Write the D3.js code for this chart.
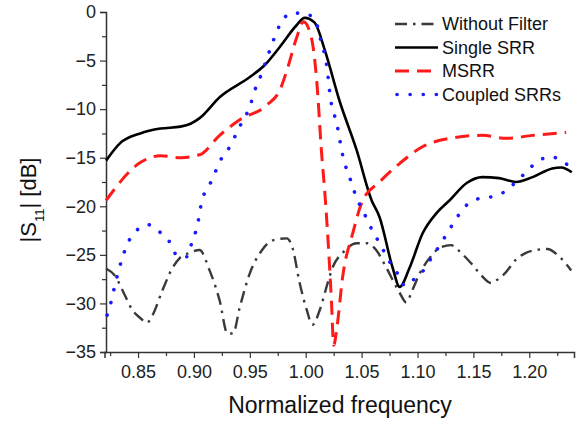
<!DOCTYPE html>
<html>
<head>
<meta charset="utf-8">
<script src="https://cdn.jsdelivr.net/npm/d3@7"></script>
<style>
  body { margin: 0; background: #fff; }
  svg { display: block; font-family: "Liberation Sans", Arial, sans-serif; }
</style>
</head>
<body>
<div id="chart"></div>
<script>
/* ---------- data ---------- */

var seriesNames = ["Without Filter", "Single SRR", "MSRR", "Coupled SRRs"];

var withoutFilter = [
  [0.8214, -26.4], [0.829, -27.1], [0.838, -29.1], [0.845, -30.7], [0.852, -31.5],
  [0.858, -32.0], [0.863, -31.2], [0.872, -28.6], [0.881, -26.3], [0.8875, -25.3],
  [0.896, -24.8], [0.905, -24.5], [0.914, -26.6], [0.923, -29.7], [0.930, -33.1],
  [0.935, -33.1], [0.941, -30.4], [0.950, -26.9], [0.961, -24.5], [0.9705, -23.5],
  [0.983, -23.3], [0.988, -24.2], [0.9946, -27.9], [1.001, -30.7], [1.006, -32.2],
  [1.0125, -30.7], [1.0196, -27.9], [1.024, -26.3], [1.033, -24.8], [1.0455, -23.8],
  [1.0545, -23.8], [1.063, -24.5], [1.072, -26.3], [1.084, -28.9], [1.090, -29.9],
  [1.0955, -28.6], [1.102, -26.9], [1.111, -25.3], [1.121, -24.2], [1.130, -24.0],
  [1.139, -24.8], [1.149, -26.0], [1.157, -27.1], [1.166, -27.9], [1.171, -27.6],
  [1.179, -26.8], [1.188, -25.5], [1.197, -24.8], [1.206, -24.5], [1.216, -24.4],
  [1.227, -25.2], [1.2375, -26.6]
];

var singleSRR = [
  [0.8214, -15.3], [0.834, -13.5], [0.852, -12.5], [0.870, -12.0], [0.888, -11.8],
  [0.897, -11.5], [0.9054, -10.9], [0.9232, -8.75], [0.950, -6.7], [0.9634, -5.46],
  [0.9768, -3.6], [0.992, -1.34], [0.999, -0.6], [1.008, -1.1], [1.017, -3.9],
  [1.030, -9.06], [1.0455, -14.2], [1.059, -19.4], [1.066, -21.1], [1.0777, -26.3],
  [1.084, -28.3], [1.093, -26.3], [1.1045, -22.8], [1.117, -20.7], [1.1286, -19.4],
  [1.144, -17.6], [1.158, -17.0], [1.173, -17.1], [1.188, -17.5], [1.203, -17.0],
  [1.2205, -16.1], [1.2286, -16.0], [1.238, -16.5]
];

var msrr = [
  [0.8214, -19.4], [0.852, -15.5], [0.870, -14.8], [0.888, -15.0], [0.905, -14.7],
  [0.923, -12.7], [0.941, -11.1], [0.965, -9.6], [0.977, -8.0], [0.984, -5.7],
  [0.992, -2.6], [0.998, -1.0], [1.005, -2.6], [1.010, -7.3], [1.014, -14.2],
  [1.018, -20.0], [1.023, -29.7], [1.025, -34.3], [1.028, -32.4], [1.033, -27.3],
  [1.042, -22.8], [1.051, -19.4], [1.066, -17.5], [1.084, -15.6], [1.104, -13.9],
  [1.129, -13.0], [1.158, -12.7], [1.179, -13.0], [1.203, -12.7], [1.233, -12.4]
];

var coupledSRRs = [
  [0.8223, -31.2], [0.826, -29.8], [0.829, -28.3], [0.832, -26.9], [0.836, -25.3],
  [0.840, -24.0], [0.847, -22.7], [0.859, -21.9], [0.870, -22.7], [0.879, -23.8],
  [0.885, -25.1], [0.894, -25.2], [0.898, -23.8], [0.903, -22.0], [0.907, -19.5],
  [0.914, -17.8], [0.919, -16.5], [0.925, -15.0], [0.932, -13.9], [0.938, -12.5],
  [0.944, -11.1], [0.950, -9.8], [0.954, -8.2], [0.959, -6.8], [0.963, -5.5],
  [0.968, -3.9], [0.977, -1.3], [0.9875, -0.1], [1.001, -0.2], [1.010, -1.3],
  [1.013, -2.7], [1.019, -5.7], [1.022, -8.75], [1.028, -11.6], [1.033, -14.7],
  [1.041, -17.6], [1.046, -19.3], [1.051, -20.4], [1.057, -21.9], [1.068, -24.2],
  [1.075, -25.7], [1.082, -26.9], [1.089, -28.2], [1.096, -27.6], [1.104, -26.8],
  [1.1125, -25.3], [1.120, -24.0], [1.127, -22.7], [1.135, -21.2], [1.142, -20.1],
  [1.155, -19.2], [1.167, -19.0], [1.178, -18.5], [1.188, -17.5], [1.197, -16.5],
  [1.207, -15.4], [1.220, -14.9], [1.2295, -15.4], [1.238, -16.0]
];

var xTicks = [0.85, 0.90, 0.95, 1.00, 1.05, 1.10, 1.15, 1.20];
var yTicks = [0, -5, -10, -15, -20, -25, -30, -35];

/* ---------- drawing ---------- */

var width = 576, height = 422;
var margin = {top: 12, right: 2, bottom: 70, left: 106};

var svg = d3.select("#chart").append("svg")
    .attr("width", width)
    .attr("height", height);

var xScale = d3.scaleLinear()
    .domain([0.82, 1.24])
    .range([margin.left - 1.5, width - margin.right]);

var yScale = d3.scaleLinear()
    .domain([-35, 0])
    .range([height - margin.bottom, margin.top]);

// minor ticks
var xMinor = d3.range(0.825, 1.24, 0.05);
var yMinor = d3.range(-32.5, 0, 5);

svg.append("g")
    .attr("transform", "translate(0," + yScale(-35) + ")")
    .call(d3.axisBottom(xScale).tickValues(xTicks).tickFormat(d3.format(".2f")).tickSize(6).tickPadding(7));

svg.append("g")
    .attr("transform", "translate(0," + yScale(-35) + ")")
    .call(d3.axisBottom(xScale).tickValues(xMinor).tickFormat("").tickSize(4))
    .select(".domain").remove();

svg.append("g")
    .attr("transform", "translate(" + margin.left + ",0)")
    .call(d3.axisLeft(yScale).tickValues(yTicks).tickFormat(d3.format("d")).tickSize(6).tickPadding(4));

svg.append("g")
    .attr("transform", "translate(" + margin.left + ",0)")
    .call(d3.axisLeft(yScale).tickValues(yMinor).tickFormat("").tickSize(4))
    .select(".domain").remove();

svg.selectAll(".domain").attr("stroke", "#333").attr("stroke-width", 1.5);
svg.selectAll(".tick line").attr("stroke", "#333").attr("stroke-width", 1.2);
svg.selectAll(".tick text")
    .attr("fill", "#222")
    .style("font-size", "18px")
    .style("font-family", "'Liberation Sans', Arial, sans-serif");

// axis titles
svg.append("text")
    .attr("x", 340)
    .attr("y", 413)
    .attr("text-anchor", "middle")
    .style("font-size", "23px")
    .attr("fill", "#111")
    .text("Normalized frequency");

var yTitle = svg.append("text")
    .attr("transform", "translate(36,200) rotate(-90)")
    .attr("text-anchor", "middle")
    .style("font-size", "22px")
    .attr("fill", "#111");
yTitle.append("tspan").text("|S");
yTitle.append("tspan").attr("baseline-shift", "sub").style("font-size", "13px").text("11");
yTitle.append("tspan").text("| [dB]");

// series
var line = d3.line()
    .x(d => xScale(d[0]))
    .y(d => yScale(d[1]))
    .curve(d3.curveMonotoneX);

var styles = [
  {data: withoutFilter, color: "#3a3a3a", width: 2.4, dash: "12,6,2.5,6", cap: "butt"},
  {data: singleSRR, color: "#000000", width: 2.6, dash: null, cap: "butt"},
  {data: msrr, color: "#ff1a1a", width: 3, dash: "14,8", cap: "butt"},
  {data: coupledSRRs, color: "#1a1aff", width: 3.6, dash: "0.1,13", cap: "round"}
];

var plot = svg.append("g");
plot.selectAll("path.series")
    .data(styles)
    .enter()
    .append("path")
    .attr("class", "series")
    .attr("d", d => line(d.data))
    .attr("fill", "none")
    .attr("stroke", d => d.color)
    .attr("stroke-width", d => d.width)
    .attr("stroke-dasharray", d => d.dash)
    .attr("stroke-linecap", d => d.cap);

// legend
var legend = svg.append("g")
    .attr("class", "legend")
    .attr("transform", "translate(395,24)");

legend.selectAll("line")
    .data(styles)
    .enter()
    .append("line")
    .attr("x1", (d, i) => i === 3 ? 2 : 0)
    .attr("x2", 43)
    .attr("y1", (d, i) => i * 23.5)
    .attr("y2", (d, i) => i * 23.5)
    .attr("stroke", d => d.color)
    .attr("stroke-width", d => d.width)
    .attr("stroke-dasharray", d => d.dash)
    .attr("stroke-linecap", d => d.cap);

legend.selectAll("text")
    .data(seriesNames)
    .enter()
    .append("text")
    .attr("x", 47)
    .attr("y", (d, i) => i * 23.5)
    .attr("dy", "0.35em")
    .style("font-size", "18px")
    .attr("fill", "#111")
    .text(d => d);
</script>
</body>
</html>
